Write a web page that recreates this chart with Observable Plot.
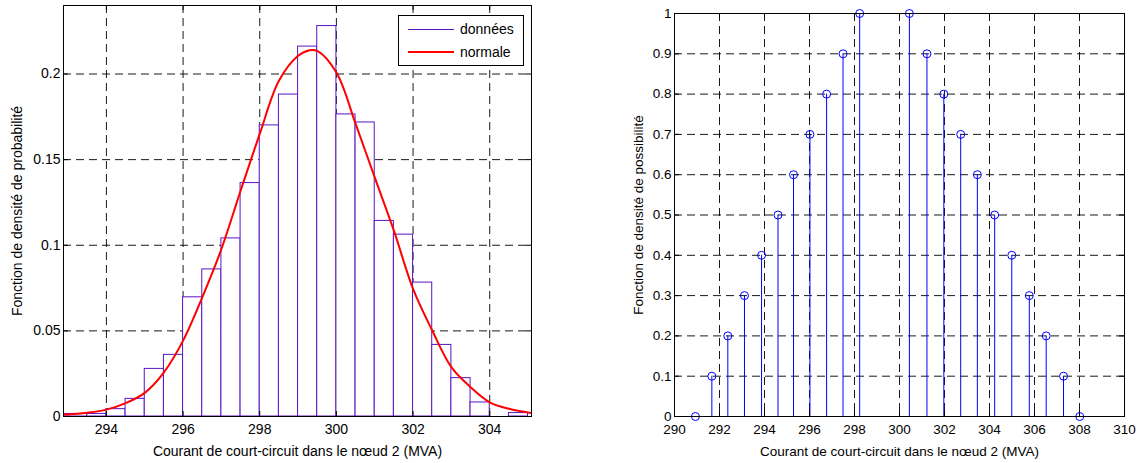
<!DOCTYPE html>
<html><head><meta charset="utf-8">
<script src="https://cdn.jsdelivr.net/npm/d3@7"></script>
<script src="https://cdn.jsdelivr.net/npm/@observablehq/plot@0.6"></script>
<style>
body{margin:0;background:#fff;}
#wrap{position:relative;width:1140px;height:463px;font-family:"Liberation Sans",Arial,sans-serif;}
#left,#right{position:absolute;top:0;}
#left{left:0px}
#right{left:570px}
#legend{position:absolute;left:398px;top:15px;}
</style></head><body>
<div id="wrap"><div id="left"></div><div id="right"></div><div id="legend"></div></div>
<script>
// ---- data: left chart (histogram + fitted normal) ----
const histEdges = [292.5,293,293.5,294,294.5,295,295.5,296,296.5,297,297.5,298,298.5,299,299.5,300,300.5,301,301.5,302,302.5,303,303.5,304,304.5,305];
const histDensity = [0.0015,0.0015,0.0015,0.0043,0.0103,0.0278,0.0360,0.0696,0.0859,0.1040,0.1363,0.1700,0.1880,0.2160,0.2280,0.1764,0.1717,0.1142,0.1062,0.0782,0.0418,0.0224,0.0082,0.0000,0.0020];
const curveX = [292.88,293.5,294,294.5,295,295.5,296,296.5,297,297.5,298,298.5,299,299.3,299.5,300,300.5,301,301.5,302,302.5,303,303.5,304,304.5,305.09];
const curveY = [0.0010,0.0022,0.0040,0.0078,0.0138,0.0258,0.0443,0.0696,0.0978,0.1318,0.1650,0.1960,0.2106,0.2139,0.2135,0.2009,0.1710,0.1396,0.1085,0.0745,0.0502,0.0288,0.0171,0.0083,0.0045,0.0020];
const leftXTicks = [294,296,298,300,302,304];
const leftYTicks = [0,0.05,0.1,0.15,0.2];
const leftYLabel = "Fonction de densité de probabilité";
const xLabel = "Courant de court-circuit dans le nœud 2 (MVA)";
const legendLabels = ["données","normale"];

// ---- data: right chart (stem of possibility) ----
const stemX = [290.93,291.66,292.37,293.11,293.87,294.60,295.29,296.02,296.76,297.49,298.23,300.44,301.22,301.97,302.72,303.46,304.23,304.99,305.77,306.52,307.29,308.01];
const stemY = [0,0.1,0.2,0.3,0.4,0.5,0.6,0.7,0.8,0.9,1.0,1.0,0.9,0.8,0.7,0.6,0.5,0.4,0.3,0.2,0.1,0];
const rightXTicks = [290,292,294,296,298,300,302,304,306,308,310];
const rightYTicks = [0,0.1,0.2,0.3,0.4,0.5,0.6,0.7,0.8,0.9,1];
const rightYLabel = "Fonction de densité de possibilité";

const FONT = "Liberation Sans, Arial, sans-serif";
const FS_L = 14;
const FS_R = 13.5;
const barColor = "#5a14c4";
const curveColor = "#ff0000";
const stemColor = "#0000ff";
const gridDash = "8,5";

const bins = histDensity.map((v,i)=>({x1:histEdges[i], x2:histEdges[i+1], y:v}));
const curve = curveX.map((x,i)=>({x, y:curveY[i]}));
const stems = stemX.map((x,i)=>({x, y:stemY[i]}));

function frameMarks(xTicks, yTicks, innerW, innerH, yLab, yLabDx, fs){
  return [
    Plot.frame({stroke:"black", strokeWidth:1}),
    Plot.tickX(xTicks, {x:d=>d, insetTop: innerH-5, stroke:"black"}),
    Plot.tickX(xTicks, {x:d=>d, insetBottom: innerH-5, stroke:"black"}),
    Plot.tickY(yTicks, {y:d=>d, insetRight: innerW-5, stroke:"black"}),
    Plot.tickY(yTicks, {y:d=>d, insetLeft: innerW-5, stroke:"black"}),
    Plot.axisX({ticks:xTicks, tickSize:0, tickPadding:8, tickFormat:d=>String(d), label:null, fontSize:fs, fill:"black"}),
    Plot.axisY({ticks:yTicks, tickSize:0, tickPadding:3, tickFormat:d=>String(d), label:null, fontSize:fs, fill:"black"}),
    Plot.text([xLabel], {text:d=>d, frameAnchor:"bottom", dy:35, lineAnchor:"middle", textAnchor:"middle", fontSize:fs, fill:"black"}),
    Plot.text([yLab], {text:d=>d, frameAnchor:"left", rotate:-90, dx:yLabDx, lineAnchor:"middle", textAnchor:"middle", fontSize:fs, fill:"black"})
  ];
}

// left chart
const LW=570, LH=463, LML=63, LMR=39, LMT=5, LMB=47;
const left = Plot.plot({
  width:LW, height:LH, marginLeft:LML, marginRight:LMR, marginTop:LMT, marginBottom:LMB,
  style:{fontFamily:FONT, fontSize:FS_L+"px", background:"white", color:"black"},
  x:{domain:[292.88,305.09], axis:null},
  y:{domain:[0,0.24], axis:null},
  marks:[
    Plot.gridX(leftXTicks, {stroke:"#000", strokeOpacity:0.9, strokeDasharray:gridDash}),
    Plot.gridY(leftYTicks, {stroke:"#000", strokeOpacity:0.9, strokeDasharray:gridDash}),
    Plot.rectY(bins, {x1:"x1", x2:"x2", y:"y", fill:"white", stroke:barColor, strokeWidth:1, clip:true}),
    Plot.line(curve, {x:"x", y:"y", stroke:curveColor, strokeWidth:2, curve:"catmull-rom", clip:true}),
    ...frameMarks(leftXTicks, leftYTicks, LW-LML-LMR, LH-LMT-LMB, leftYLabel, -46, FS_L)
  ]
});
document.getElementById("left").appendChild(left);

// right chart
const RW=570, RH=463, RML=104, RMR=16, RMT=13, RMB=47;
const right = Plot.plot({
  width:RW, height:RH, marginLeft:RML, marginRight:RMR, marginTop:RMT, marginBottom:RMB,
  style:{fontFamily:FONT, fontSize:FS_R+"px", background:"white", color:"black"},
  x:{domain:[290,310], axis:null},
  y:{domain:[0,1], axis:null},
  marks:[
    Plot.gridX(rightXTicks, {stroke:"#000", strokeOpacity:0.9, strokeDasharray:gridDash}),
    Plot.gridY(rightYTicks, {stroke:"#000", strokeOpacity:0.9, strokeDasharray:gridDash}),
    Plot.ruleX(stems, {x:"x", y1:0, y2:"y", stroke:stemColor, strokeWidth:1}),
    Plot.dot(stems, {x:"x", y:"y", r:4, stroke:stemColor, fill:"none", strokeWidth:1}),
    ...frameMarks(rightXTicks, rightYTicks, RW-RML-RMR, RH-RMT-RMB, rightYLabel, -36, FS_R)
  ]
});
document.getElementById("right").appendChild(right);

// legend (left chart)
const lg = d3.select("#legend").append("svg").attr("width",127).attr("height",52)
  .style("font-family",FONT).style("font-size",FS_L+"px");
lg.append("rect").attr("x",0.5).attr("y",0.5).attr("width",125).attr("height",50).attr("fill","white").attr("stroke","black");
const legendStyles = [{color:barColor, w:1},{color:curveColor, w:2}];
legendLabels.forEach((t,i)=>{
  const cy = 14.5 + i*22.5;
  lg.append("line").attr("x1",10).attr("x2",56).attr("y1",cy).attr("y2",cy)
    .attr("stroke",legendStyles[i].color).attr("stroke-width",legendStyles[i].w);
  lg.append("text").attr("x",62).attr("y",cy).attr("dy","0.35em").attr("fill","black").text(t);
});
</script>
</body></html>
